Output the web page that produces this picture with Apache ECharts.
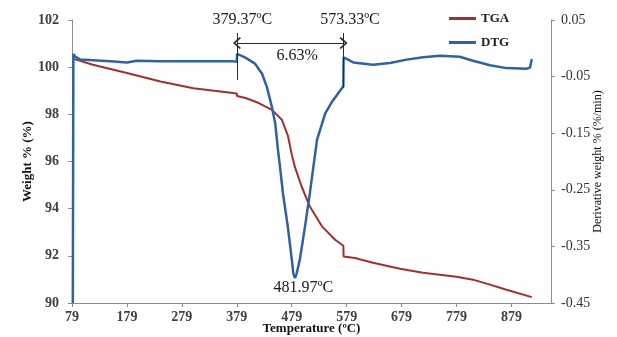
<!DOCTYPE html>
<html>
<head>
<meta charset="utf-8">
<script src="https://cdn.jsdelivr.net/npm/echarts@6/dist/echarts.min.js"></script>
<style>html,body{margin:0;padding:0;background:#fff;}#c{width:617px;height:337px;}</style>
</head>
<body>
<div id="c"></div>
<script>
// ---- data ----
var xTicks = [79, 179, 279, 379, 479, 579, 679, 779, 879];
var leftTicks = [90, 92, 94, 96, 98, 100, 102];
var rightTicks = [-0.45, -0.35, -0.25, -0.15, -0.05, 0.05];

var tgaTemp =   [82, 117, 179, 240, 300, 372, 379.0, 379.4, 395, 418, 443, 461, 472, 479, 485, 497, 512, 534, 558, 573.0, 573.4, 594, 627, 676, 718, 779, 809, 840, 870, 916];
var tgaWeight = [100.35, 100.10, 99.75, 99.39, 99.11, 98.90, 98.88, 98.78, 98.69, 98.49, 98.19, 97.77, 97.10, 96.30, 95.75, 94.94, 94.09, 93.25, 92.68, 92.43, 91.97, 91.91, 91.71, 91.45, 91.28, 91.11, 90.99, 90.78, 90.56, 90.25];

var dtgTemp =  [80.5, 81.5, 84, 94, 149, 179, 197, 240, 300, 372, 379.0, 379.4, 394, 412, 425, 434, 443, 449, 454, 458, 463, 472, 479, 482, 485, 488, 494, 503, 512, 520, 525, 540, 552, 570, 573.0, 573.4, 591, 627, 658, 688, 718, 749, 785, 809, 840, 870, 907, 913, 915, 916];
var dtgValue = [-0.45, -0.010, -0.014, -0.020, -0.023, -0.025, -0.022, -0.023, -0.023, -0.023, -0.024, -0.010, -0.016, -0.027, -0.045, -0.069, -0.104, -0.133, -0.180, -0.212, -0.256, -0.316, -0.372, -0.398, -0.406, -0.398, -0.372, -0.316, -0.256, -0.198, -0.162, -0.115, -0.095, -0.071, -0.067, -0.016, -0.025, -0.029, -0.026, -0.020, -0.016, -0.013, -0.015, -0.022, -0.030, -0.035, -0.036, -0.034, -0.035, -0.019];

var onsetTemps = [379.37, 573.33];
var onsetLabels = ['379.37ºC', '573.33ºC'];
var lossLabel = '6.63%';
var peakLabel = '481.97ºC';
var seriesNames = ['TGA', 'DTG'];

function pairs(a, b) { return a.map(function (v, i) { return [v, b[i]]; }); }

var serif = '"Liberation Serif", "Times New Roman", serif';
var chevron = 'path://M5,0 L10,5.5 L9,6.5 L5,2 L1,6.5 L0,5.5 Z';

var chart = echarts.init(document.getElementById('c'), null, {renderer: 'canvas'});
chart.setOption({
  animation: false,
  backgroundColor: '#ffffff',
  grid: {left: 72, right: 66, top: 20, bottom: 34, containLabel: false, outerBoundsMode: 'none'},
  legend: {
    data: seriesNames,
    orient: 'vertical',
    left: 449, top: 12,
    padding: 0,
    itemGap: 11,
    itemWidth: 27, itemHeight: 3,
    icon: 'rect',
    textStyle: {fontFamily: serif, fontSize: 13, fontWeight: 'bold', color: '#222'}
  },
  xAxis: {
    type: 'value', min: 79, max: 951,
    name: 'Temperature (ºC)', nameLocation: 'middle', nameGap: 19, nameMoveOverlap: false,
    nameTextStyle: {fontFamily: serif, fontSize: 13, fontWeight: 'bold', color: '#111'},
    axisLine: {show: true, onZero: false, lineStyle: {color: '#8c8c8c', width: 1}},
    axisTick: {show: true, length: 4, customValues: xTicks, lineStyle: {color: '#8c8c8c'}},
    axisLabel: {customValues: xTicks, margin: 7, fontFamily: serif, fontSize: 14, fontWeight: 'bold', color: '#404040'},
    splitLine: {show: false}
  },
  yAxis: [{
    type: 'value', min: 90, max: 102, interval: 2, position: 'left',
    name: 'Weight % (%)', nameLocation: 'middle', nameRotate: 90, nameGap: 38, nameMoveOverlap: false,
    nameTextStyle: {fontFamily: serif, fontSize: 13, fontWeight: 'bold', color: '#111'},
    axisLine: {show: true, onZero: false, lineStyle: {color: '#8c8c8c', width: 1}},
    axisTick: {show: true, length: 4, lineStyle: {color: '#8c8c8c'}},
    axisLabel: {margin: 13, fontFamily: serif, fontSize: 14, fontWeight: 'bold', color: '#404040'},
    splitLine: {show: false}
  }, {
    type: 'value', min: -0.45, max: 0.05, position: 'right', alignTicks: false,
    name: 'Derivative weight % (%/min)', nameLocation: 'middle', nameRotate: 90, nameGap: 41, nameMoveOverlap: false,
    nameTextStyle: {fontFamily: serif, fontSize: 12, color: '#111'},
    axisLine: {show: true, onZero: false, lineStyle: {color: '#8c8c8c', width: 1}},
    axisTick: {show: true, length: 4, customValues: rightTicks, lineStyle: {color: '#8c8c8c'}},
    axisLabel: {customValues: rightTicks, margin: 10, fontFamily: serif, fontSize: 14, color: '#333',
      formatter: function (v) { return v.toFixed(2); }},
    splitLine: {show: false}
  }],
  series: [{
    name: seriesNames[0], type: 'line', yAxisIndex: 0,
    data: pairs(tgaTemp, tgaWeight),
    showSymbol: false, symbol: 'none',
    color: '#a32f2c',
    lineStyle: {color: '#a32f2c', width: 2},
    z: 2,
    markLine: {
      silent: true, symbol: 'none', animation: false,
      lineStyle: {color: '#2a2a2a', width: 1, type: 'solid'},
      label: {show: false},
      data: [
        [{coord: [onsetTemps[0], 101.45]}, {coord: [onsetTemps[0], 99.46]}],
        [{coord: [onsetTemps[1], 101.45]}, {coord: [onsetTemps[1], 99.12]}],
        [{coord: [onsetTemps[0], 101.02], symbol: chevron, symbolSize: [12, 8]},
         {coord: [onsetTemps[1], 101.02], symbol: chevron, symbolSize: [12, 8]}]
      ]
    },
    markPoint: {
      silent: true, animation: false,
      symbol: 'circle', symbolSize: 1,
      itemStyle: {color: 'rgba(0,0,0,0)'},
      label: {show: true, position: 'inside', fontFamily: serif, fontSize: 16, color: '#1a1a1a',
        formatter: function (p) { return p.name; }},
      data: [
        {name: onsetLabels[0], coord: [389, 102.0]},
        {name: onsetLabels[1], coord: [585, 102.0]},
        {name: lossLabel, coord: [489, 100.49]},
        {name: peakLabel, coord: [500, 90.65]}
      ]
    }
  }, {
    name: seriesNames[1], type: 'line', yAxisIndex: 1,
    data: pairs(dtgTemp, dtgValue),
    showSymbol: false, symbol: 'none',
    color: '#2f62a3',
    lineStyle: {color: '#2f62a3', width: 2.5},
    z: 3
  }]
});
</script>
</body>
</html>
